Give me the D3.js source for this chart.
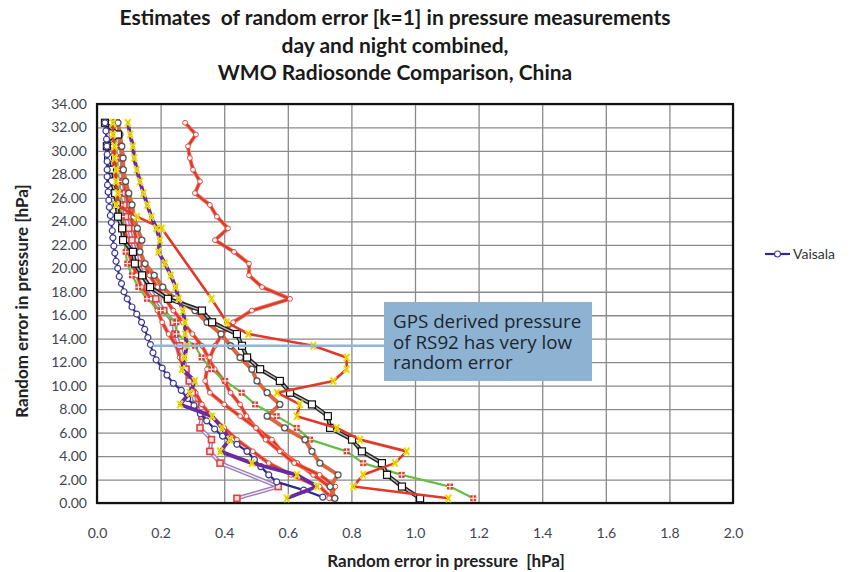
<!DOCTYPE html>
<html lang="en">
<head>
<meta charset="utf-8">
<style>
body { margin: 0; background: #fff; font-family: Lato, "Liberation Sans", sans-serif; }
</style>
<script src="https://cdn.jsdelivr.net/npm/d3@7"></script>
</head>
<body>
<div id="chart"></div>
<script>
var width = 857, height = 572;
var margin = {left: 97, top: 104, right: 124, bottom: 69};
var w = width - margin.left - margin.right,
	h = height - margin.top - margin.bottom;

// heights (y axis), bottom to top
var levels = [0.4,1.4,2.4,3.4,4.4,5.4,6.4,7.4,8.4,9.4,10.4,11.4,12.4,13.4,14.4,15.4,16.4,17.4,18.4,19.4,20.4,21.4,22.4,23.4,24.4,25.4,26.4,27.4,28.4,29.4,30.4,31.4,32.4];
var vaisalaLevels = [0.5,1.1,1.8,2.4,3.1,3.7,4.4,5.0,5.7,6.3,7.0,7.6,8.3,8.9,9.6,10.2,10.9,11.5,12.2,12.8,13.5,14.1,14.8,15.4,16.1,16.7,17.4,18.0,18.7,19.3,20.0,20.6,21.3,21.9,22.6,23.2,23.9,24.5,25.2,25.8,26.5,27.1,27.8,28.4,29.1,29.7,30.4,31.0,31.7,32.4];

// random error values [hPa]
var vaisala = [0.710,0.650,0.565,0.540,0.515,0.495,0.472,0.440,0.395,0.370,0.345,0.325,0.305,0.285,0.265,0.240,0.220,0.205,0.186,0.176,0.168,0.160,0.150,0.140,0.125,0.110,0.095,0.085,0.077,0.070,0.065,0.060,0.056,0.053,0.050,0.048,0.045,0.042,0.039,0.037,0.035,0.033,0.032,0.032,0.032,0.032,0.031,0.030,0.028,0.025];
var purpleX = [0.597,0.692,0.629,0.487,0.387,0.418,0.393,0.362,0.261,0.292,0.308,0.267,0.275,0.283,0.277,0.277,0.270,0.257,0.247,0.232,0.214,0.193,0.198,0.187,0.171,0.158,0.146,0.135,0.125,0.117,0.113,0.104,0.097];
var redX = [1.105,0.806,0.837,0.937,0.974,0.827,0.754,0.628,0.638,0.566,0.743,0.785,0.785,0.680,0.476,0.408,null,0.360,null,null,null,null,null,0.204,0.126,0.060,0.065,0.060,0.060,0.055,0.055,0.050,0.050];
var blackSq = [1.016,0.959,0.912,0.896,0.833,0.802,0.733,0.726,0.676,0.607,0.575,0.513,0.472,0.456,0.440,0.362,0.330,0.223,0.167,0.142,0.119,0.113,0.082,0.079,0.066,0.062,0.057,0.047,0.041,0.035,0.031,0.066,0.025];
var greenHash = [1.183,1.110,0.958,0.837,0.785,0.670,0.628,0.565,0.497,0.455,0.403,0.360,0.329,0.308,0.250,0.250,0.200,0.157,0.130,0.110,0.095,0.090,0.085,0.080,0.078,0.075,0.072,0.068,0.065,0.062,0.060,0.058,0.055];
var orangeGray = [0.748,0.733,0.758,0.701,0.676,0.654,0.590,0.535,0.575,0.535,0.503,0.487,0.450,0.420,0.390,0.346,0.308,0.245,0.207,0.180,0.151,0.135,0.141,0.127,0.116,0.110,0.100,0.090,0.083,0.082,0.078,0.072,0.066];
var redWide = [0.730,0.750,0.700,0.620,0.575,0.530,0.500,0.450,0.400,0.355,0.340,0.346,0.355,0.371,0.393,0.428,0.487,0.607,0.519,0.478,0.478,0.431,0.371,0.412,0.377,0.355,0.308,0.324,0.302,0.292,0.286,0.311,0.277];
var redA = [0.740,0.700,0.610,0.540,0.490,0.440,0.400,0.360,0.330,0.310,0.290,0.275,0.260,0.250,0.225,0.205,0.190,0.170,0.140,0.125,0.110,0.100,0.095,0.085,0.075,0.070,0.065,0.060,0.055,0.050,0.050,0.045,0.040];
var redB = [0.750,0.730,0.680,0.630,0.580,0.550,0.500,0.470,0.450,0.420,0.400,0.370,0.350,0.330,0.300,0.270,0.240,0.215,0.190,0.165,0.150,0.135,0.125,0.115,0.105,0.100,0.090,0.085,0.080,0.075,0.070,0.065,0.060];
var lavender = [0.440,0.570,null,0.387,0.355,0.360,0.324,0.330,0.310,0.300,0.290,0.280,0.270,0.260,0.245,0.240,0.210,0.185,0.160,0.145,0.130,0.120,0.110,0.100,0.090,0.085,0.080,0.075,0.070,0.070,0.065,0.060,0.060];

var yTicks = d3.range(0, 34.01, 2);
var xTicks = d3.range(0, 2.001, 0.2);
var titleLines = ["Estimates  of random error [k=1] in pressure measurements", "day and night combined,", "WMO Radiosonde Comparison, China"];
var noteLines = ["GPS derived pressure", "of RS92 has very low", "random error"];
var noteLevel = 13.4;

var svg = d3.select("#chart").append("svg")
	.attr("width", width)
	.attr("height", height);

var g = svg.append("g")
	.attr("transform", "translate(" + margin.left + "," + margin.top + ")");

var x = d3.scaleLinear().domain([0, 2]).range([0, w]);
var y = d3.scaleLinear().domain([0, 34]).range([h, 0]);

// grid
g.append("g")
	.attr("class", "grid")
	.call(d3.axisLeft(y).tickValues(yTicks).tickSize(-w).tickFormat(""))
	.call(function(s){ s.select(".domain").remove(); })
	.selectAll("line").attr("stroke", "#8a8a8a").attr("stroke-width", 1.3);
g.append("g")
	.attr("class", "grid")
	.attr("transform", "translate(0," + h + ")")
	.call(d3.axisBottom(x).tickValues(xTicks).tickSize(-h).tickFormat(""))
	.call(function(s){ s.select(".domain").remove(); })
	.selectAll("line").attr("stroke", "#8a8a8a").attr("stroke-width", 1.3);

g.append("rect")
	.attr("width", w).attr("height", h)
	.attr("fill", "none").attr("stroke", "#111").attr("stroke-width", 2.2);

// tick labels
var yAxis = g.append("g")
	.call(d3.axisLeft(y).tickValues(yTicks).tickSize(0).tickPadding(10).tickFormat(d3.format(".2f")));
yAxis.select(".domain").remove();
yAxis.selectAll("text").attr("font-family", "Lato, sans-serif").attr("font-size", 14).attr("fill", "#3f4550");

var xAxis = g.append("g")
	.attr("transform", "translate(0," + h + ")")
	.call(d3.axisBottom(x).tickValues(xTicks).tickSize(0).tickPadding(25).tickFormat(d3.format(".1f")));
xAxis.select(".domain").remove();
xAxis.selectAll("text").attr("font-family", "Lato, sans-serif").attr("font-size", 14).attr("fill", "#3f4550");

// series
function pts(vals, hs) {
	return vals.map(function(v, i){ return {v: v, h: hs[i]}; })
		.filter(function(d){ return d.v !== null; });
}
var line = d3.line().x(function(d){ return x(d.v); }).y(function(d){ return y(d.h); });

var series = [
	{vals: redA, hs: levels, lines: [["#f08070", 4], ["#de3a2a", 2.4]], mark: "redcircle"},
	{vals: redB, hs: levels, lines: [["#f08070", 4], ["#de3a2a", 2.4]], mark: "redcircle"},
	{vals: redWide, hs: levels, lines: [["#f08070", 4], ["#de3a2a", 2.4]], mark: "redcircle"},
	{vals: lavender, hs: levels, lines: [["#9d80b8", 4.2], ["#f4eef8", 1.4]], mark: "redsquare"},
	{vals: greenHash, hs: levels, lines: [["#69bd45", 2.2]], mark: "hash"},
	{vals: orangeGray, hs: levels, lines: [["#d9683f", 4]], mark: "graycircle"},
	{vals: blackSq, hs: levels, lines: [["#222", 4.2], ["#b5b5b5", 1.4]], mark: "square"},
	{vals: redX, hs: levels, lines: [["#e0392b", 2.6]], mark: "x"},
	{vals: vaisala, hs: vaisalaLevels, lines: [["#2f2a8a", 2.2]], mark: "bluecircle"},
	{vals: purpleX, hs: levels, lines: [["#6b2a9e", 3.8]], mark: "x"}
];

series.forEach(function(s) {
	var data = pts(s.vals, s.hs);
	var sg = g.append("g");
	s.lines.forEach(function(l) {
		sg.append("path").datum(data)
			.attr("d", line)
			.attr("fill", "none")
			.attr("stroke", l[0])
			.attr("stroke-width", l[1])
			.attr("stroke-linejoin", "round");
	});
	var m = sg.selectAll(".m").data(data).enter().append("g")
		.attr("transform", function(d){ return "translate(" + x(d.v) + "," + y(d.h) + ")"; });
	if (s.mark == "redcircle") {
		m.append("circle").attr("r", 2.4).attr("fill", "#fff").attr("stroke", "#e0473a").attr("stroke-width", 1);
	} else if (s.mark == "bluecircle") {
		m.append("circle").attr("r", 3).attr("fill", "#fff").attr("stroke", "#3b3a9a").attr("stroke-width", 1.2);
	} else if (s.mark == "graycircle") {
		m.append("circle").attr("r", 3).attr("fill", "#fff").attr("stroke", "#555").attr("stroke-width", 1.3);
	} else if (s.mark == "square") {
		m.append("rect").attr("x", -3.5).attr("y", -3.5).attr("width", 7).attr("height", 7)
			.attr("fill", "#fff").attr("stroke", "#111").attr("stroke-width", 1.2);
	} else if (s.mark == "redsquare") {
		m.append("rect").attr("x", -3).attr("y", -3).attr("width", 6).attr("height", 6)
			.attr("fill", "#fbe0e0").attr("stroke", "#e04040").attr("stroke-width", 1.6);
	} else if (s.mark == "hash") {
		m.append("rect").attr("x", -3).attr("y", -3).attr("width", 6).attr("height", 6).attr("fill", "#e03a33");
		m.append("path").attr("d", "M-3,0H3M0,-3V3").attr("stroke", "#fff").attr("stroke-width", 1);
	} else if (s.mark == "x") {
		m.append("path").attr("d", "M-2.8,-3.8L2.8,3.8M2.8,-3.8L-2.8,3.8")
			.attr("stroke", "#f4ea1a").attr("stroke-width", 2.4);
		m.append("path").attr("d", "M-2,-3L2,3M2,-3L-2,3")
			.attr("stroke", "#c7a800").attr("stroke-width", 0.6);
	}
});

// annotation
var box = {x: 384 - margin.left, y: 302 - margin.top, w: 208, h: 79};
g.append("line")
	.attr("x1", x(0.176)).attr("x2", box.x)
	.attr("y1", y(noteLevel)).attr("y2", y(noteLevel))
	.attr("stroke", "#8fb6d8").attr("stroke-width", 2.6);
g.append("rect")
	.attr("x", box.x).attr("y", box.y).attr("width", box.w).attr("height", box.h)
	.attr("fill", "#8eb3d2");
g.append("g").selectAll("text").data(noteLines).enter().append("text")
	.attr("x", box.x + 9)
	.attr("y", function(d, i){ return box.y + 26 + i * 20.5; })
	.attr("font-family", "'Open Sans', sans-serif")
	.attr("font-size", 18.8)
	.attr("fill", "#1c2530")
	.text(function(d){ return d; });

// titles
svg.append("g").selectAll("text").data(titleLines).enter().append("text")
	.attr("x", 395)
	.attr("y", function(d, i){ return 25 + i * 27.5; })
	.attr("text-anchor", "middle")
	.attr("font-family", "Lato, sans-serif")
	.attr("font-weight", "bold")
	.attr("font-size", 21)
	.attr("fill", "#1a1a1a")
	.style("white-space", "pre")
	.text(function(d){ return d; });

svg.append("text")
	.attr("x", 446).attr("y", 567)
	.attr("text-anchor", "middle")
	.attr("font-family", "Lato, sans-serif")
	.attr("font-weight", "bold")
	.attr("font-size", 17)
	.attr("fill", "#222")
	.style("white-space", "pre")
	.text("Random error in pressure  [hPa]");

svg.append("text")
	.attr("transform", "translate(28,301) rotate(-90)")
	.attr("text-anchor", "middle")
	.attr("font-family", "Lato, sans-serif")
	.attr("font-weight", "bold")
	.attr("font-size", 17)
	.attr("fill", "#222")
	.text("Random error in pressure [hPa]");

// legend
var lg = svg.append("g").attr("transform", "translate(765,254)");
lg.append("line").attr("x1", 0).attr("x2", 25).attr("stroke", "#2f2a8a").attr("stroke-width", 2.2);
lg.append("circle").attr("cx", 12.5).attr("r", 3).attr("fill", "#fff").attr("stroke", "#3b3a9a").attr("stroke-width", 1.2);
lg.append("text").attr("x", 28).attr("y", 5).attr("font-family", "Lato, sans-serif")
	.attr("font-size", 14).attr("fill", "#333").text("Vaisala");
</script>
</body>
</html>
